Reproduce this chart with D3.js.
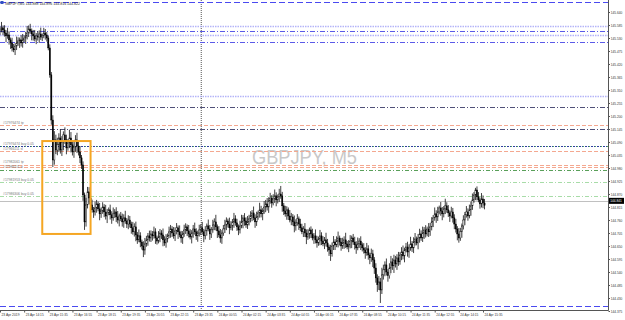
<!DOCTYPE html>
<html><head><meta charset="utf-8">
<script src="https://cdn.jsdelivr.net/npm/d3@7"></script>
<style>html,body{margin:0;padding:0;background:#fff;overflow:hidden}svg{display:block;font-family:"Liberation Sans",Arial,sans-serif}</style>
</head><body><svg id="c" width="625" height="320"></svg>
<script>
// ---- data ----
const symbolTitle = "GBPJPY,M5";
const titleOHLC = ["144.888", "144.896", "144.816", "144.822"];
const watermark = "GBPJPY, M5";
const firstOpen = 145.560;
const closes = [
145.564,145.573,145.564,145.551,145.539,145.543,145.522,145.509,145.488,145.480,145.496,145.509,145.518,145.522,145.509,145.522,145.530,145.539,145.551,145.568,145.560,145.547,145.539,145.526,145.539,145.534,145.547,145.534,145.539,145.551,145.543,145.530,
145.488,145.374,145.183,145.014,145.099,145.056,
145.078,145.107,145.056,145.090,145.120,145.099,145.065,145.086,145.107,145.078,145.048,145.069,145.099,145.073,
145.048,145.023,144.993,
144.866,144.752,
144.824,144.879,144.853,
144.824,144.803,144.794,144.811,144.828,144.807,144.786,144.798,144.815,144.794,144.777,144.790,144.803,144.782,144.769,144.786,144.794,144.773,144.760,144.777,144.765,144.752,144.769,144.756,144.743,144.760,
144.743,144.727,144.710,144.731,144.697,144.676,144.693,144.667,144.650,144.633,144.659,144.676,144.693,144.684,144.701,
144.693,144.710,144.684,144.671,144.688,144.705,144.697,144.676,144.663,144.680,144.693,144.710,144.722,144.705,144.693,144.714,144.727,144.710,144.697,144.684,144.701,144.718,144.731,144.714,144.701,144.688,144.705,144.722,144.710,144.693,144.705,144.718,
144.727,144.710,144.693,144.714,144.735,144.722,144.701,144.718,144.739,144.752,144.731,144.714,144.697,144.684,144.705,144.722,144.739,144.756,144.743,144.727,144.735,144.752,144.765,144.748,144.731,144.718,144.735,144.752,144.769,144.756,144.739,144.752,144.765,
144.777,144.790,144.769,144.752,144.773,144.790,144.803,144.786,144.798,144.815,
144.828,144.815,144.841,144.853,144.832,144.849,144.862,144.845,144.858,144.870,144.862,144.820,144.798,
144.786,144.803,144.777,144.760,144.773,144.752,144.735,144.748,144.765,144.743,144.727,144.710,144.722,144.705,144.688,144.701,144.718,
144.701,144.684,144.693,144.676,144.663,144.680,144.693,144.671,144.659,144.676,144.663,144.646,144.633,144.617,144.650,144.667,144.655,144.671,144.684,144.667,144.650,144.663,144.676,144.659,144.646,144.655,144.671,144.684,144.667,144.655,144.642,144.659,144.671,144.655,144.642,
144.633,144.621,144.638,144.612,144.600,144.617,144.591,
144.557,144.515,144.486,144.498,144.464,144.528,
144.549,144.570,144.540,144.524,144.557,144.583,144.566,144.591,144.574,
144.600,144.583,144.612,144.625,144.608,144.633,144.646,144.625,144.642,144.659,144.642,144.667,144.680,144.663,144.684,144.701,144.684,144.705,144.718,144.701,144.722,144.710,144.731,
144.752,144.769,144.786,144.773,144.794,144.811,144.798,144.786,144.807,144.820,144.803,144.790,144.777,144.794,144.769,
144.743,144.722,144.701,144.684,144.710,144.735,
144.760,144.782,144.794,144.777,144.803,144.820,144.845,144.866,144.887,144.858,144.845,144.828,144.849,144.832,144.822
];
const upperWick = [
.015,.025,.010,.020,.012,.030,.015,.010,.022,.017,.012,.027,.015,.010,.020,.025,.012,.017,.030,.015,.022,.010,.017,.025,.012,.020,.015,.027,.010,.022,.017,.012,
.010,.015,.012,.020,.037,.022,
.030,.020,.037,.025,.015,.032,.022,.017,.035,.025,.015,.027,.020,.030,
.020,.025,.012,
.015,.010,
.030,.021,.020,
.015,.022,.012,.027,.017,.010,.025,.015,.020,.012,.030,.017,.010,.022,.015,.027,.012,.020,.025,.010,.017,.022,.015,.030,.012,.020,
.017,.010,.025,.015,.022,.012,.027,.015,.010,.020,.025,.017,.012,.022,.015,
.012,.022,.015,.010,.025,.017,.012,.027,.015,.020,.010,.022,.017,.012,.025,.015,.020,.010,.027,.017,.012,.022,.015,.010,.025,.020,.012,.017,.027,.015,.010,.022,
.015,.025,.012,.020,.010,.027,.017,.012,.022,.015,.030,.010,.020,.025,.012,.017,.022,.015,.010,.027,.020,.012,.025,.015,.017,.010,.022,.030,.012,.020,.015,.025,.017,
.020,.012,.027,.015,.022,.010,.030,.017,.012,.025,
.017,.025,.015,.022,.012,.020,.027,.015,.010,.022,.034,.017,.012,
.022,.015,.010,.025,.017,.012,.027,.015,.020,.010,.022,.017,.012,.025,.015,.020,.010,
.015,.022,.012,.027,.017,.010,.025,.015,.020,.012,.030,.017,.010,.022,.015,.025,.012,.020,.027,.010,.017,.022,.015,.030,.012,.020,.025,.010,.017,.022,.015,.027,.012,.020,.010,
.020,.012,.025,.015,.010,.022,.017,
.012,.020,.015,.025,.017,.030,
.022,.015,.027,.012,.020,.025,.015,.022,.017,
.015,.025,.012,.020,.027,.010,.017,.022,.015,.030,.012,.020,.025,.010,.017,.022,.015,.027,.012,.020,.010,.025,.017,
.020,.012,.027,.015,.022,.010,.025,.017,.012,.030,.015,.020,.010,.022,.017,
.015,.022,.012,.025,.017,.010,
.020,.012,.025,.015,.022,.017,.027,.012,.009,.015,.020,.010,.025,.015,.017
];
const lowerWick = [
.017,.010,.022,.015,.027,.012,.020,.025,.015,.010,.022,.017,.012,.030,.015,.020,.010,.025,.015,.017,.012,.027,.020,.010,.022,.015,.025,.012,.017,.010,.020,.015,
.010,.012,.020,.030,.020,.017,
.022,.030,.015,.025,.035,.017,.027,.012,.022,.032,.015,.025,.020,.030,
.015,.022,.017,
.025,.034,
.020,.015,.025,
.017,.012,.025,.015,.020,.010,.027,.017,.012,.022,.015,.030,.010,.020,.025,.012,.017,.022,.015,.027,.010,.020,.025,.012,.017,.022,
.015,.025,.012,.020,.027,.017,.010,.022,.015,.030,.020,.012,.025,.015,.017,
.020,.012,.025,.015,.010,.022,.017,.027,.012,.020,.015,.010,.025,.017,.012,.022,.015,.030,.010,.020,.025,.012,.017,.022,.015,.010,.027,.020,.012,.017,.025,.015,
.022,.012,.027,.015,.020,.010,.025,.017,.012,.022,.015,.030,.010,.020,.025,.012,.017,.022,.015,.027,.010,.020,.025,.012,.017,.022,.015,.010,.027,.020,.012,.017,.015,
.015,.022,.010,.025,.017,.012,.020,.015,.027,.012,
.022,.015,.025,.012,.020,.010,.017,.027,.015,.022,.012,.025,.017,
.012,.025,.017,.010,.022,.015,.027,.020,.012,.025,.015,.010,.022,.017,.030,.012,.020,
.017,.010,.025,.015,.020,.012,.027,.017,.010,.022,.015,.020,.025,.030,.012,.017,.022,.010,.027,.015,.020,.012,.025,.017,.010,.022,.015,.030,.012,.020,.025,.010,.017,.022,.015,
.015,.025,.012,.020,.027,.017,.030,
.025,.020,.030,.022,.055,.017,
.020,.027,.015,.025,.012,.022,.017,.030,.015,
.025,.017,.012,.022,.015,.027,.010,.020,.025,.012,.017,.022,.015,.010,.027,.020,.012,.017,.025,.015,.010,.022,.017,
.015,.022,.012,.025,.017,.010,.020,.027,.015,.022,.012,.017,.025,.010,.020,
.022,.015,.027,.020,.012,.025,
.015,.022,.012,.020,.010,.025,.017,.012,.022,.015,.010,.020,.015,.022,.017
];
const timeLabels = ["23 Apr 2019","23 Apr 14:15","23 Apr 15:35","23 Apr 16:55","23 Apr 18:15","23 Apr 19:35","23 Apr 20:55","23 Apr 22:15","23 Apr 23:35","24 Apr 00:55","24 Apr 02:15","24 Apr 03:35","24 Apr 04:55","24 Apr 06:15","24 Apr 07:35","24 Apr 08:55","24 Apr 10:15","24 Apr 11:35","24 Apr 12:55","24 Apr 14:15","24 Apr 15:35"];
const barsPerLabel = 16;
const priceTicks = [145.640,145.585,145.530,145.475,145.420,145.365,145.310,145.255,145.200,145.145,145.090,145.035,144.980,144.925,144.870,144.815,144.760,144.705,144.650,144.595,144.540,144.485,144.430,144.375];
const levelPrices = [145.683,145.581,145.560,145.543,145.513,145.285,145.238,145.163,145.145,145.073,145.052,144.993,144.985,144.972,144.921,144.862,144.397];
const levelKinds  = ["blueDash","lavDot","blueDashDot","lavDot","blueDashDot","lavDot","darkDashDot","tp","darkDashDot","entry","sl","tp","sl","entryDark","entryLight","entryLight","blueDash"];
const orderLabels = ["#17976474 tp","#17976474 buy 0.05","#17966111 sl","#17982061 tp","#17986111 sl","#17981953 buy 0.05","#17986306 buy 0.05"];
const orderLabelPrices = [145.163,145.073,145.052,144.995,144.976,144.921,144.862];
const currentPrice = 144.841;
const daySeparatorBar = 133;
const boxStartBar = 28, boxEndBar = 60, boxHigh = 145.094, boxLow = 144.701;

// ---- scales ----
const svg = d3.select("#c");
const W = 608, H = 310;
const x = d3.scaleLinear().domain([0, 320]).range([0, 483]);
const y = d3.scaleLinear().domain([144.375, 145.640]).range([311, 12]);

const styles = {
  blueDash:{stroke:"#4a4af0",dash:"6,3",w:1},
  lavDot:{stroke:"#b4b4f8",dash:"1.5,1",w:1.6},
  blueDashDot:{stroke:"#5a5ae8",dash:"5,2,1,2",w:1},
  darkDashDot:{stroke:"#505078",dash:"5,2,1,2",w:1},
  tp:{stroke:"#f4a890",dash:"4,2",w:1},
  sl:{stroke:"#f4a890",dash:"4,2",w:1},
  entry:{stroke:"#2f3fa0",dash:"2,1",w:1.2},
  entryDark:{stroke:"#5aa05a",dash:"4,2,1,2",w:1},
  entryLight:{stroke:"#a8dca8",dash:"4,2,1,2",w:1}
};

// day separator
svg.append("line").attr("x1", x(daySeparatorBar)+0.5).attr("x2", x(daySeparatorBar)+0.5)
  .attr("y1", 0).attr("y2", H).attr("stroke", "#555").attr("stroke-dasharray", "1,1").attr("stroke-width", 1);

// watermark
svg.append("text").attr("x", 252).attr("y", 164).attr("font-size", 21).attr("fill", "#c8c8c8")
  .attr("textLength", 105).attr("lengthAdjust", "spacingAndGlyphs").text(watermark);

// levels
levelPrices.forEach((p, i) => {
  const s = styles[levelKinds[i]];
  const yy = Math.round(y(p)) + 0.5;
  svg.append("line").attr("x1", 0).attr("x2", W).attr("y1", yy).attr("y2", yy)
    .attr("stroke", s.stroke).attr("stroke-width", s.w).attr("stroke-dasharray", s.dash);
  if (levelKinds[i] === "entry") {
    svg.append("line").attr("x1", 1).attr("x2", W).attr("y1", yy).attr("y2", yy)
      .attr("stroke", "#4caf50").attr("stroke-width", 1).attr("stroke-dasharray", "1,5");
  }
});
// current price line
svg.append("line").attr("x1", 0).attr("x2", W).attr("y1", Math.round(y(currentPrice))+0.5).attr("y2", Math.round(y(currentPrice))+0.5)
  .attr("stroke", "#c0c0c0").attr("stroke-width", 1);

// order labels
orderLabels.forEach((t, i) => {
  svg.append("text").attr("x", 3).attr("y", y(orderLabelPrices[i]) - 1.2).attr("font-size", 3.4)
    .attr("fill", "#777").text(t);
});

// candles
const bars = closes.map((c, i) => {
  const o = i === 0 ? firstOpen : closes[i-1];
  return {i, o, c, h: Math.max(o, c) + upperWick[i], l: Math.min(o, c) - lowerWick[i]};
});
const g = svg.append("g");
g.selectAll("line.w").data(bars).join("line").attr("class","w")
  .attr("x1", d => x(d.i)).attr("x2", d => x(d.i))
  .attr("y1", d => y(d.h)).attr("y2", d => y(d.l))
  .attr("stroke", "#111").attr("stroke-width", 0.8);
g.selectAll("rect.b").data(bars).join("rect").attr("class","b")
  .attr("x", d => x(d.i) - 0.6).attr("width", 1.2)
  .attr("y", d => y(Math.max(d.o, d.c)))
  .attr("height", d => Math.max(0.6, Math.abs(y(d.o) - y(d.c))))
  .attr("fill", d => d.c >= d.o ? "#fff" : "#000")
  .attr("stroke", "#000").attr("stroke-width", 0.4);

// orange box
svg.append("rect").attr("x", x(boxStartBar)).attr("y", y(boxHigh))
  .attr("width", x(boxEndBar) - x(boxStartBar)).attr("height", y(boxLow) - y(boxHigh))
  .attr("fill", "none").attr("stroke", "#f5a623").attr("stroke-width", 2);

// frame
svg.append("line").attr("x1", W+0.5).attr("x2", W+0.5).attr("y1", 0).attr("y2", H+0.5).attr("stroke", "#555");
svg.append("line").attr("x1", 0).attr("x2", W+0.5).attr("y1", H+0.5).attr("y2", H+0.5).attr("stroke", "#555");

// price axis
const ya = svg.append("g").attr("transform", `translate(${W+0.5},0)`)
  .call(d3.axisRight(y).tickValues(priceTicks).tickFormat(d3.format(".3f")).tickSize(1.5).tickPadding(0.8));
ya.select(".domain").remove();
ya.selectAll("line").attr("stroke", "#555");
ya.selectAll("text").attr("font-size", 4).attr("fill", "#333").attr("textLength", 11.5).attr("lengthAdjust", "spacingAndGlyphs")
  .attr("font-family", "Liberation Sans, Arial, sans-serif");

// current price box
const cy = y(currentPrice);
svg.append("rect").attr("x", W+1).attr("y", cy - 3).attr("width", 15).attr("height", 6).attr("fill", "#000");
svg.append("text").attr("x", W+2.2).attr("y", cy + 1.5).attr("font-size", 4).attr("fill", "#fff")
  .attr("textLength", 11.5).attr("lengthAdjust", "spacingAndGlyphs").text(d3.format(".3f")(currentPrice));

// time axis
const xa = svg.append("g").attr("transform", `translate(0,${H+0.5})`)
  .call(d3.axisBottom(x).tickValues(timeLabels.map((_, k) => k * barsPerLabel))
    .tickFormat((d, k) => timeLabels[k]).tickSize(2).tickPadding(1));
xa.select(".domain").remove();
xa.selectAll("line").attr("stroke", "#555");
xa.selectAll("text").attr("text-anchor", "start").attr("dx", 1).attr("font-size", 4).attr("fill", "#333")
  .attr("textLength", 18).attr("lengthAdjust", "spacingAndGlyphs").attr("font-family", "Liberation Sans, Arial, sans-serif");

// title
svg.append("rect").attr("x", 0.5).attr("y", 1).attr("width", 3).attr("height", 3).attr("fill", "#3050c0");
svg.append("text").attr("x", 5).attr("y", 5).attr("font-size", 4).attr("fill", "#222")
  .attr("textLength", 75).attr("lengthAdjust", "spacingAndGlyphs")
  .text(symbolTitle + "  " + titleOHLC.join(" "));
</script></body></html>
